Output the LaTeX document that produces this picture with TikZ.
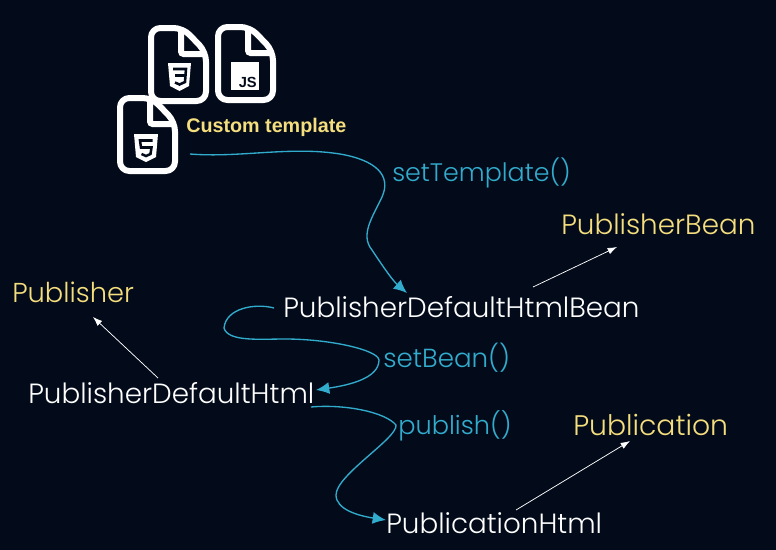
\documentclass[tikz,border=0pt]{standalone}
\usepackage{xcolor}
\usepackage{fontspec}
\setmainfont{Poppins Light}
\newfontfamily\labelfont{Liberation Sans}
\usetikzlibrary{arrows.meta,calc}
\definecolor{bgDark}   {RGB}{3, 11, 27}
\definecolor{flowBlue} {RGB}{50,172,205}
\definecolor{nameGold} {RGB}{245,222,125}
\tikzset{
  cls/.style={anchor=base west,inner sep=0pt,text=white,font=\fontsize{20.85}{24}\selectfont},
  parent/.style={cls,text=nameGold},
  call/.style={cls,text=flowBlue,font=\fontsize{19.6}{24}\selectfont},
  flow/.style={draw=flowBlue,line width=1pt,-{Latex[length=10pt,width=9pt]}},
  inherit/.style={draw=white,line width=0.55pt,-{Latex[length=7pt,width=5pt]}},
  filebody/.style={draw=white,line width=4.5pt,line join=round,fill=bgDark},
  shield/.style={fill=white,draw=none},
  glyph/.style={draw=bgDark,line width=1.9pt,line join=miter}
}
\newcommand{\fileicon}[1]{%
  \begin{scope}[shift={#1}]
    \draw[filebody,rounded corners=7pt] (0,0) -- (32,0) -- (55,24) -- (55,73) -- (0,73) -- cycle;
    \draw[white,line width=4.5pt,rounded corners=2pt] (30,0) -- (30,26) -- (55,26);
  \end{scope}}
\begin{document}
\begin{tikzpicture}[x=0.75pt,y=-0.75pt]
  \fill[bgDark] (0,0) rectangle (776,550);
  \useasboundingbox (0,0) rectangle (776,550);
  % template files
  \fileicon{(151,28)}
  \fill[shield] (168,63) -- (191,63) -- (189,86) -- (179.5,91) -- (170,86) -- cycle;
  \draw[glyph] (173,69) -- (186,69) -- (185,82) -- (179.5,84.5) -- (175,82.5)
               (175,75.5) -- (185,75.5);
  \fileicon{(218,27)}
  \fill[white] (231,62) rectangle (259,90);
  \node[inner sep=0pt,anchor=base east,text=bgDark,font=\labelfont\bfseries\fontsize{11}{12}\selectfont] (jsText) at (257,87) {JS};
  \fileicon{(120,98)}
  \fill[shield] (134,134) -- (158,134) -- (156,157) -- (146,162) -- (136,157) -- cycle;
  \draw[glyph] (152.5,140.5) -- (140,140.5) -- (141,147.5) -- (151.5,147.5) -- (150.5,154) -- (146,156) -- (141.5,154);
  \node[anchor=base west,inner sep=0pt,text=nameGold,font=\labelfont\bfseries\fontsize{14.8}{18}\selectfont] (tplName) at (186,132) {Custom template};
  % class names
  \node[cls] (htmlBean) at (283,317) {PublisherDefaultHtmlBean};
  \node[cls] (htmlPub) at (28,403) {PublisherDefaultHtml};
  \node[cls] (pubHtml) at (386,533) {PublicationHtml};
  \node[parent] (beanIf) at (561,234) {PublisherBean};
  \node[parent,font=\fontsize{20.5}{24}\selectfont] (pubIf) at (12,302) {Publisher};
  \node[parent,font=\fontsize{21.2}{24}\selectfont] (pubn) at (573,435) {Publication};
  \node[call,font=\fontsize{19}{24}\selectfont] (setTpl) at (392,181) {setTemplate()};
  \node[call] (setBean) at (383,367) {setBean()};
  \node[call,font=\fontsize{19.2}{24}\selectfont] (publish) at (398,434) {publish()};
  % inheritance
  \draw[inherit] ($(htmlBean.base west)+(250,-30)$) -- ($(beanIf.base west)+(56,13)$);
  \draw[inherit] ($(htmlPub.base west)+(130,-25)$) -- ($(pubIf.base west)+(81,15)$);
  \draw[inherit] ($(pubHtml.base west)+(130,-23)$) -- ($(pubn.base west)+(57,6)$);
  % calls
  \draw[flow] ($(tplName.base west)+(4,22)$)
     .. controls (240,158) and (290,146) .. (340,154)
     .. controls (375,160) and (392,175) .. (382,197)
     .. controls (372,218) and (360,235) .. (372,250)
     .. controls (380,262) and (392,280) .. ($(htmlBean.base west)+(124,-24)$);
  \draw[flow] ($(htmlBean.base west)+(-9,-9)$)
     .. controls (255,303) and (226,308) .. (224,328)
     .. controls (228,342) and (260,339) .. (285,339)
     .. controls (330,339) and (378,350) .. (379,360)
     .. controls (379,378) and (350,385) .. ($(htmlPub.base west)+(288,-13)$);
  \draw[flow] ($(htmlPub.base west)+(283,4)$)
     .. controls (345,404) and (385,412) .. (396,425)
     .. controls (398,438) and (336,475) .. (336,495)
     .. controls (336,510) and (360,516) .. ($(pubHtml.base west)+(0,-13)$);
\end{tikzpicture}
\end{document}
